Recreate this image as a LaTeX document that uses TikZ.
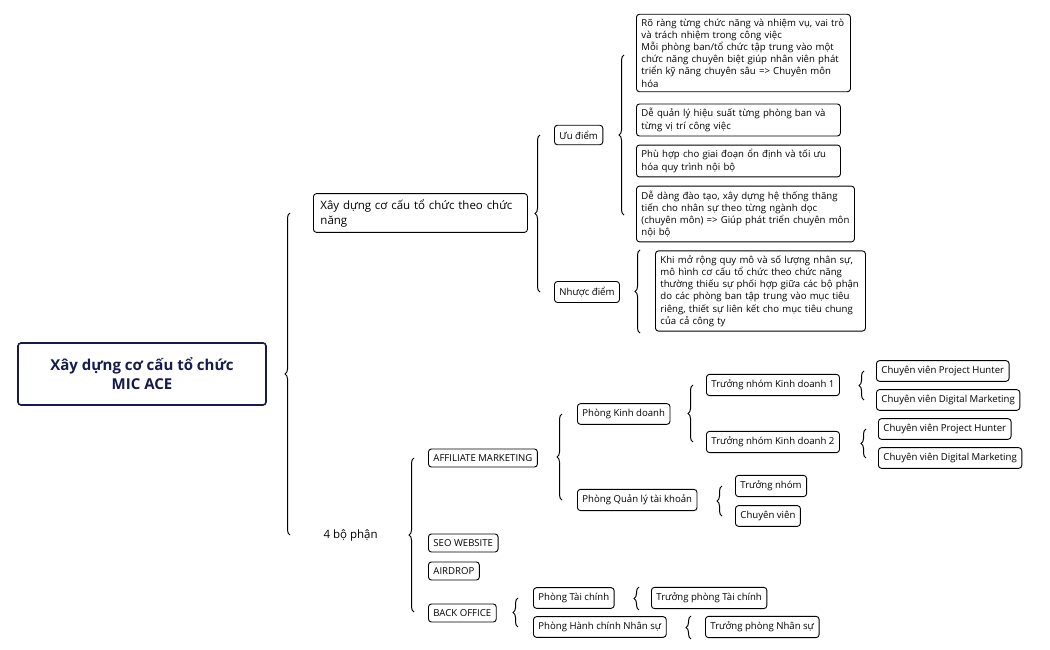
\documentclass[tikz,border=0pt]{standalone}
\usepackage{fontspec}
\setmainfont{Open Sans}
\usetikzlibrary{positioning,decorations.pathreplacing}
\definecolor{navy}{RGB}{22,26,78}
\tikzset{
  box/.style={draw,rounded corners=3pt,line width=0.9pt,anchor=west,inner xsep=5pt,inner ysep=5.5pt,
    font=\fontsize{9.6}{12.2}\selectfont},
  para/.style={box,align=left,inner ysep=4.5pt},
  brace/.style={decorate,decoration={brace,amplitude=5pt},line width=1pt}
}
\begin{document}
\begin{tikzpicture}[x=1pt,y=-1pt]
\useasboundingbox (0,0) rectangle (1050,650);
% root and first level
\node[draw=navy,text=navy,line width=1.6pt,rounded corners=3pt,minimum width=248,minimum height=62,
  align=center,font=\fontsize{15}{19}\selectfont\bfseries] (root) at (142,374)
  {Xây dựng cơ cấu tổ chức\\MIC ACE};
\node[box,align=left,text width=200,inner xsep=7pt,font=\fontsize{11.5}{15}\selectfont] (func) at (313,213)
  {Xây dựng cơ cấu tổ chức theo chức năng};
\node[anchor=west,font=\fontsize{11.5}{15}\selectfont] (parts) at (320,535) {4 bộ phận};
\draw[brace] (290,535) -- (290,213);
% advantages / disadvantages
\node[box] (pro) at (554,135) {Ưu điểm};
\node[box] (con) at (554,292) {Nhược điểm};
\draw[brace] (540,292) -- (540,135);
\node[para,text width=204] (pro1) at (636,53) {Rõ ràng từng chức năng và nhiệm vụ, vai trò và trách nhiệm trong công việc\\Mỗi phòng ban/tổ chức tập trung vào một chức năng chuyên biệt giúp nhân viên phát triển kỹ năng chuyên sâu => Chuyên môn hóa};
\node[para,text width=194] (pro2) at (636,120) {Dễ quản lý hiệu suất từng phòng ban và từng vị trí công việc};
\node[para,text width=194] (pro3) at (636,161) {Phù hợp cho giai đoạn ổn định và tối ưu hóa quy trình nội bộ};
\node[para,text width=208] (pro4) at (636,214) {Dễ dàng đào tạo, xây dựng hệ thống thăng tiến cho nhân sự theo từng ngành dọc (chuyên môn) => Giúp phát triển chuyên môn nội bộ};
\draw[brace] (624,215) -- (624,55);
\node[para,text width=200] (con1) at (655,291) {Khi mở rộng quy mô và số lượng nhân sự, mô hình cơ cấu tổ chức theo chức năng thường thiếu sự phối hợp giữa các bộ phận  do các phòng ban tập trung vào mục tiêu riêng, thiết sự liên kết cho mục tiêu chung của cả công ty};
\draw[brace] (640,333) -- (640,250);
% departments
\node[box] (aff) at (428,458) {AFFILIATE MARKETING};
\node[box] (seo) at (428,543) {SEO WEBSITE};
\node[box] (air) at (428,571) {AIRDROP};
\node[box] (bo) at (428,613) {BACK OFFICE};
\draw[brace] (414,612) -- (414,458);
\node[box] (kd) at (577,414) {Phòng Kinh doanh};
\node[box] (ql) at (577,500) {Phòng Quản lý tài khoản};
\draw[brace] (562,500) -- (562,414);
\node[box] (tn1) at (706,385) {Trưởng nhóm Kinh doanh 1};
\node[box] (tn2) at (706,442) {Trưởng nhóm Kinh doanh 2};
\draw[brace] (693,442) -- (693,385);
\node[box] (ph1) at (876,371) {Chuyên viên Project Hunter};
\node[box] (dm1) at (876,400) {Chuyên viên Digital Marketing};
\draw[brace] (864,400) -- (864,371);
\node[box] (ph2) at (878,429) {Chuyên viên Project Hunter};
\node[box] (dm2) at (878,458) {Chuyên viên Digital Marketing};
\draw[brace] (866,458) -- (866,429);
\node[box] (qltn) at (735,486) {Trưởng nhóm};
\node[box] (qlcv) at (735,516) {Chuyên viên};
\draw[brace] (722,516) -- (722,486);
\node[box] (tc) at (533,598) {Phòng Tài chính};
\node[box] (ns) at (533,627) {Phòng Hành chính Nhân sự};
\draw[brace] (518,627) -- (518,598);
\node[box] (tptc) at (651,598) {Trưởng phòng Tài chính};
\draw[brace] (639,610) -- (639,587);
\node[box] (tpns) at (705,627) {Trưởng phòng Nhân sự};
\draw[brace] (691,639) -- (691,616);
\end{tikzpicture}
\end{document}
